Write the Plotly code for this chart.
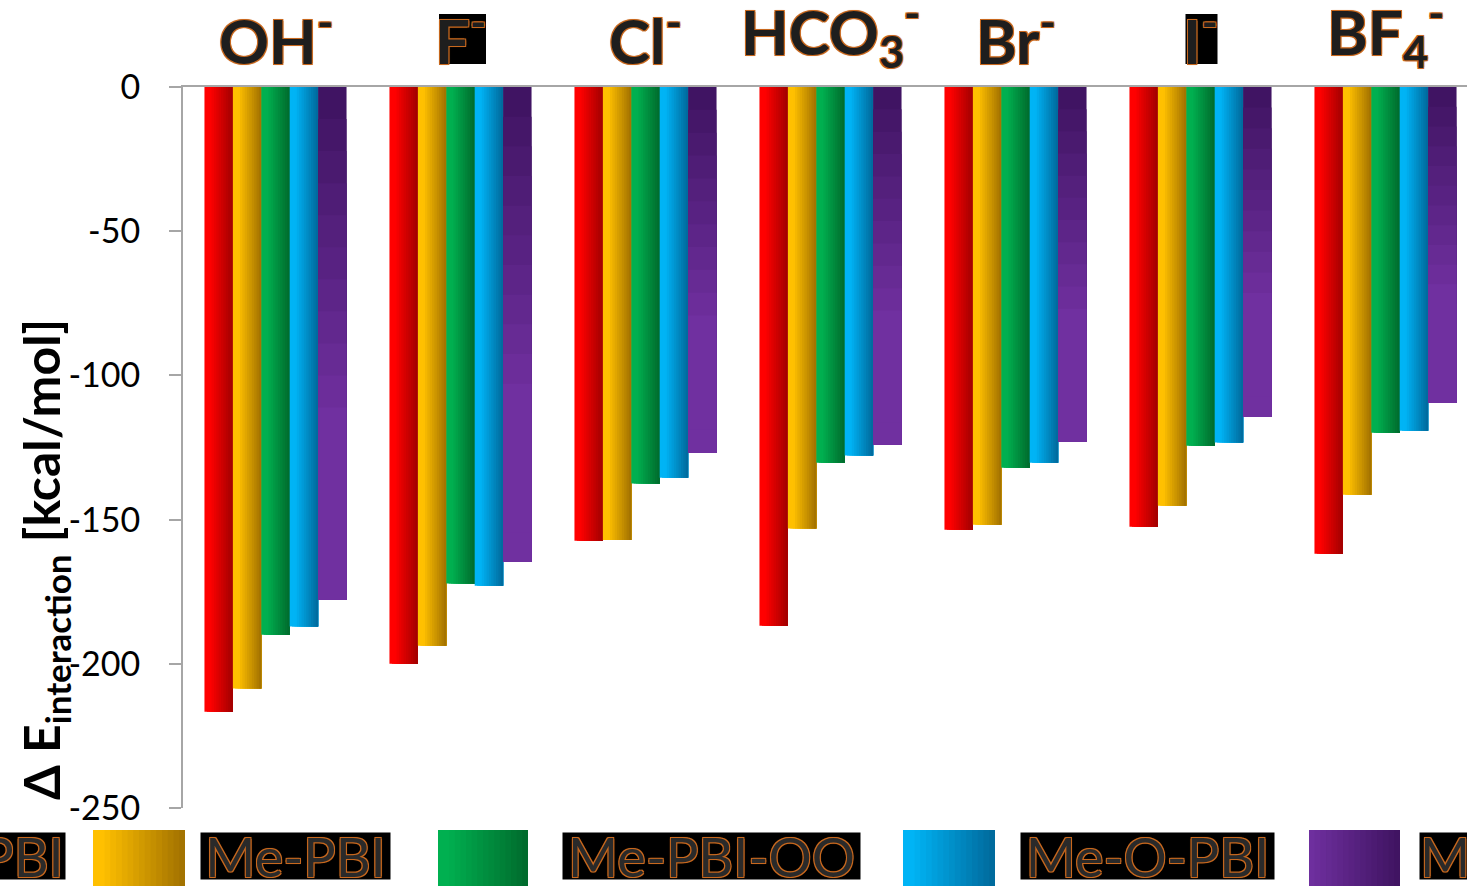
import plotly.graph_objects as go

# ---------------- data ----------------
anions = ["OH<sup>-</sup>", "F<sup>-</sup>", "Cl<sup>-</sup>", "HCO<sub>3</sub><sup>-</sup>",
          "Br<sup>-</sup>", "I<sup>-</sup>", "BF<sub>4</sub><sup>-</sup>"]
series_names = ["PBI", "Me-PBI", "Me-PBI-OO", "Me-O-PBI", "Me-O-PBI-OO"]
pbi = [-216.6, -200.0, -157.3, -186.8, -153.5, -152.5, -161.8]
me_pbi = [-208.6, -193.7, -157.1, -153.1, -151.8, -145.2, -141.4]
me_pbi_oo = [-189.9, -172.2, -137.5, -130.3, -132.0, -124.4, -119.9]
me_o_pbi = [-187.1, -172.9, -135.5, -127.8, -130.3, -123.3, -119.2]
me_o_pbi_oo = [-177.8, -164.6, -126.8, -124.0, -123.0, -114.3, -109.5]
y_ticks = [0, -50, -100, -150, -200, -250]
y_tick_labels = [str(v) for v in y_ticks]

series_values = [pbi, me_pbi, me_pbi_oo, me_o_pbi, me_o_pbi_oo]
# gradient colours (bright side, dark side)
grad_colors = [("#ff0000", "#a00000"), ("#ffc000", "#a07000"),
               ("#00b050", "#006a2c"), ("#00b4f5", "#00689a"),
               ("#7030a0", "#3e1360")]

def hex2rgb(h):
    h = h.lstrip("#")
    return tuple(int(h[i:i + 2], 16) for i in (0, 2, 4))

def mix(c0, c1, t):
    a, b = hex2rgb(c0), hex2rgb(c1)
    return "rgb(%d,%d,%d)" % tuple(round(a[i] + (b[i] - a[i]) * t) for i in range(3))

FONT = "Lato"
W, H = 1467, 886
L, R, T, B = 183, 0, 87, 78
PW, PH = W - L - R, H - T - B
CAT_PX = 185.0

def pxx(p):
    return (p - L) / PW

def pxy(p):
    return (H - B - p) / PH

fig = go.Figure()
x_idx = list(range(len(anions)))
group_w = 0.768
bw = group_w / 5
K = 12  # horizontal gradient steps (each step overlaps to the bar's right edge)
for j in range(4):
    c0, c1 = grad_colors[j]
    for k in range(K):
        t = (k + 0.5) / K
        tt = max(0.0, (t - 0.2) / 0.8)
        fig.add_trace(go.Bar(
            x=x_idx, y=series_values[j],
            offset=-group_w / 2 + j * bw + k * bw / K, width=bw * (K - k) / K,
            marker=dict(color=mix(c0, c1, tt), line=dict(width=0)),
            showlegend=False, hoverinfo="skip"))
# purple: vertical gradient, dark at top
M = 16
vals = series_values[4]
for m in range(M):
    t = (m + 0.5) / M
    tt = min(1.0, t / 0.65)
    fig.add_trace(go.Bar(
        x=x_idx, y=[v * (M - m) / M for v in vals], base=[v * m / M for v in vals],
        offset=-group_w / 2 + 4 * bw, width=bw,
        marker=dict(color=mix("#3e1360", "#7030a0", tt), line=dict(width=0)),
        showlegend=False, hoverinfo="skip"))

outline = ("-1px -1px 0 #c8681e, 1px -1px 0 #c8681e, -1px 1px 0 #c8681e, "
           "1px 1px 0 #c8681e, 0 0 2px #c8681e")

annotations = []
shapes = []
# black boxes behind the F- and I- labels (px widths, centre offsets)
label_boxes = {1: (47, 2), 5: (32, 1)}
for i, a in enumerate(anions):
    annotations.append(dict(
        x=i, xref="x", y=1, yref="paper", yanchor="bottom", xanchor="center",
        yshift=8, text="<b>%s</b>" % a, showarrow=False,
        font=dict(family=FONT, size=62, color="#1e1e1e", shadow=outline)))
    if i in label_boxes:
        bwpx, dx = label_boxes[i]
        shapes.append(dict(type="rect", xref="x", yref="paper",
                           x0=i + (dx - bwpx / 2) / CAT_PX, x1=i + (dx + bwpx / 2) / CAT_PX,
                           y0=pxy(64), y1=pxy(14), fillcolor="black",
                           line=dict(width=0), layer="above"))

# y axis title
annotations.append(dict(
    x=pxx(44), xref="paper", y=pxy(560), yref="paper", xanchor="center", yanchor="middle",
    textangle=-90, showarrow=False,
    text="<b>\u0394 E<sub>interaction</sub> [kcal/mol]</b>",
    font=dict(family=FONT, size=50, color="black")))

# custom legend (swatch / label box positions in px)
legend_items = [
    (-180, -88, -20, 65, "center"),
    (93, 185, 201, 390, "center"),
    (438, 528, 563, 860, "center"),
    (903, 995, 1021, 1274, "center"),
    (1309, 1400, 1420, 1760, "left"),
]
S = 16
for j, (s0, s1, t0, t1, al) in enumerate(legend_items):
    c0, c1 = grad_colors[j]
    for k in range(S):
        a0 = s0 + (s1 - s0) * k / S
        t = (k + 0.5) / S
        if j == 4:
            col = mix(c0, c1, t)
        else:
            col = mix(c0, c1, max(0.0, (t - 0.1) / 0.9))
        shapes.append(dict(type="rect", xref="paper", yref="paper",
                           x0=pxx(a0), x1=pxx(s1), y0=pxy(830), y1=pxy(890),
                           fillcolor=col, line=dict(width=0), layer="above"))
    annotations.append(dict(
        x=pxx((t0 + t1) / 2), xref="paper", y=pxy(856), yref="paper",
        xanchor="center", yanchor="middle", showarrow=False, align=al,
        width=t1 - t0, height=46, bgcolor="black", borderpad=0, valign="middle",
        text=series_names[j],
        font=dict(family=FONT, size=54, color="#2a2a2a", shadow=outline)))

fig.update_layout(
    width=W, height=H, margin=dict(l=L, r=R, t=T, b=B),
    barmode="overlay", plot_bgcolor="white", paper_bgcolor="white",
    showlegend=False, annotations=annotations, shapes=shapes,
    xaxis=dict(range=[-0.5, -0.5 + PW / CAT_PX], side="top", showline=True,
               linecolor="#a6a6a6", linewidth=2, showticklabels=False, ticks="",
               showgrid=False, zeroline=False, fixedrange=True),
    yaxis=dict(range=[-250, 0], tickvals=y_ticks, ticktext=y_tick_labels,
               ticks="outside", ticklen=12,
               tickwidth=2, tickcolor="#a6a6a6", showline=True, linecolor="#a6a6a6",
               linewidth=2, showgrid=False, zeroline=False, ticklabelstandoff=22,
               tickfont=dict(family=FONT, size=34, color="black"), fixedrange=True),
)

fig.write_html("out.html")
